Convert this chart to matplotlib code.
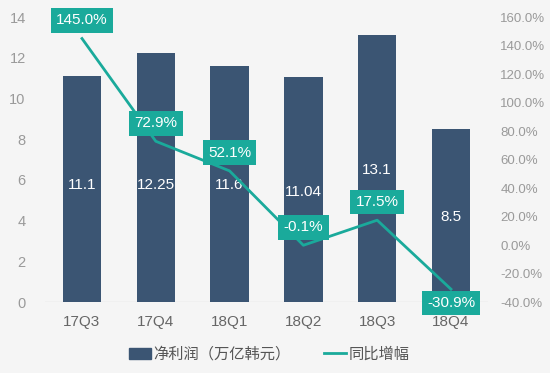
import matplotlib

matplotlib.use("Agg")
import matplotlib.pyplot as plt
from matplotlib.lines import Line2D
from matplotlib.patches import Patch
from matplotlib.ticker import FuncFormatter

plt.rcParams["font.family"] = ["Liberation Sans", "Noto Sans CJK SC", "DejaVu Sans"]

# data
quarters = ["17Q3", "17Q4", "18Q1", "18Q2", "18Q3", "18Q4"]
net_profit = [11.1, 12.25, 11.6, 11.04, 13.1, 8.5]
profit_labels = ["11.1", "12.25", "11.6", "11.04", "13.1", "8.5"]
yoy_growth = [145.0, 72.9, 52.1, -0.1, 17.5, -30.9]

# where the white value text sits inside each bar (data units)
bar_text_y = [5.75, 5.75, 5.75, 5.4, 6.5, 4.2]

BAR = "#3b5573"
TEAL = "#1aaa9b"
GRAY = "#9a9a9a"
BG = "#f5f5f5"

fig = plt.figure(figsize=(5.5, 3.73), dpi=100, facecolor=BG)
ax = fig.add_axes([0.082, 0.19, 0.805, 0.764], facecolor=BG)
x = range(len(quarters))

ax.bar(x, net_profit, width=0.52, color=BAR, zorder=2)
for i, (lab, ty) in enumerate(zip(profit_labels, bar_text_y)):
    ax.text(i, ty, lab, color="white", fontsize=11, ha="center", va="center", zorder=3)

ax.set_xlim(-0.5, len(quarters) - 0.5)
ax.set_ylim(0, 14)
ax.set_yticks(range(0, 15, 2))
ax.set_xticks(list(x))
ax.set_xticklabels(quarters, fontsize=11, color="#666666")
ax.tick_params(axis="y", labelsize=10.5, labelcolor=GRAY, length=0, pad=14)
ax.tick_params(axis="x", length=0, pad=9)
for s in ax.spines.values():
    s.set_visible(False)
ax.axhline(0, color="#dddddd", lw=1, zorder=1)

ax2 = ax.twinx()
ax2.plot(x, yoy_growth, color=TEAL, lw=2, zorder=4)
ax2.set_ylim(-40, 160)
ax2.set_yticks(range(-40, 161, 20))
ax2.yaxis.set_major_formatter(FuncFormatter(lambda v, _: f"{v:.1f}%"))
ax2.tick_params(axis="y", labelsize=9.5, labelcolor=GRAY, length=0, pad=9)
for s in ax2.spines.values():
    s.set_visible(False)

for i, v in enumerate(yoy_growth):
    dy = -10 if i == len(yoy_growth) - 1 else 13
    ax2.annotate(f"{v:.1f}%", (i, v), xytext=(0, dy), textcoords="offset points",
                 ha="center", va="center", color="white", fontsize=11, zorder=5,
                 bbox=dict(boxstyle="square,pad=0.35", fc=TEAL, ec="none"))

handles = [Patch(color=BAR), Line2D([], [], color=TEAL, lw=2)]
fig.legend(handles, ["净利润（万亿韩元）", "同比增幅"], loc="center",
           bbox_to_anchor=(0.49, 0.05), ncol=2, frameon=False, fontsize=11,
           handlelength=1.4, handletextpad=0.2, columnspacing=2.2,
           labelcolor="#555555")

fig.savefig("out.png", dpi=100, facecolor=BG)
